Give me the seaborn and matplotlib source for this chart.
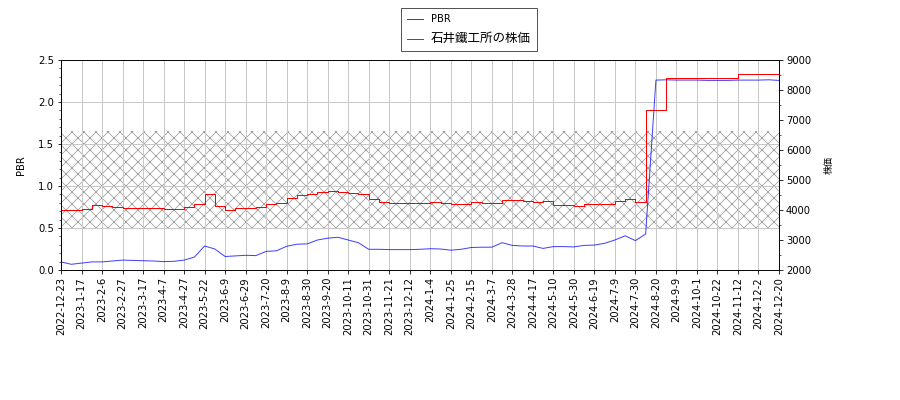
import numpy as np
import pandas as pd
import matplotlib
matplotlib.use("Agg")
import matplotlib.pyplot as plt
from matplotlib.ticker import MultipleLocator
import seaborn as sns

plt.rcParams['font.family'] = ['DejaVu Sans', 'Noto Sans CJK JP']
plt.rcParams['hatch.linewidth'] = 0.8

tick_labels = [
    "2022-12-23", "2023-1-17", "2023-2-6", "2023-2-27", "2023-3-17", "2023-4-7",
    "2023-4-27", "2023-5-22", "2023-6-9", "2023-6-29", "2023-7-20", "2023-8-9",
    "2023-8-30", "2023-9-20", "2023-10-11", "2023-10-31", "2023-11-21", "2023-12-12",
    "2024-1-4", "2024-1-25", "2024-2-15", "2024-3-7", "2024-3-28", "2024-4-17",
    "2024-5-10", "2024-5-30", "2024-6-19", "2024-7-9", "2024-7-30", "2024-8-20",
    "2024-9-9", "2024-10-1", "2024-10-22", "2024-11-12", "2024-12-2", "2024-12-20",
]

# PBR sampled every half tick interval
pbr = [
    0.72, 0.71, 0.73, 0.775, 0.76, 0.745, 0.74, 0.74, 0.74, 0.735,
    0.725, 0.73, 0.745, 0.78, 0.91, 0.76, 0.71, 0.735, 0.74, 0.75,
    0.785, 0.80, 0.86, 0.89, 0.91, 0.93, 0.945, 0.93, 0.92, 0.90,
    0.84, 0.81, 0.80, 0.80, 0.795, 0.80, 0.805, 0.80, 0.78, 0.78,
    0.805, 0.80, 0.80, 0.835, 0.83, 0.82, 0.81, 0.82, 0.775, 0.775,
    0.762, 0.786, 0.786, 0.785, 0.825, 0.85, 0.81, 1.90, 1.90, 2.28,
    2.28, 2.28, 2.28, 2.28, 2.28, 2.28, 2.33, 2.33, 2.33, 2.33, 2.33,
]

# stock price sampled every half tick interval
price = [
    2270, 2190, 2230, 2270, 2270, 2300, 2330, 2320, 2310, 2300,
    2280, 2290, 2330, 2430, 2800, 2700, 2450, 2470, 2490, 2480,
    2620, 2640, 2790, 2860, 2870, 3000, 3060, 3090, 3000, 2910,
    2690, 2690, 2680, 2680, 2680, 2690, 2710, 2700, 2660, 2690,
    2750, 2760, 2760, 2910, 2820, 2800, 2800, 2720, 2780, 2780,
    2770, 2820, 2830, 2890, 3000, 3140, 2980, 3200, 8330, 8340,
    8330, 8330, 8330, 8320, 8320, 8320, 8330, 8330, 8330, 8340, 8320,
]

band_low, band_high = 0.5, 1.65

idx = np.arange(len(pbr))
df = pd.DataFrame({"idx": idx, "PBR": pbr, "price": price})

fig = plt.figure(figsize=(12.5, 400 / 72), dpi=72)
ax = fig.add_axes([61 / 900, 1 - 270 / 400, (779 - 61) / 900, 210 / 400])
ax2 = ax.twinx()

ax.axhspan(band_low, band_high, facecolor='none', edgecolor='#a0a0a0',
           hatch='xx', linewidth=0, zorder=0)

sns.lineplot(data=df, x="idx", y="PBR", ax=ax, color='red', linewidth=1,
             drawstyle='steps-post', label='PBR', legend=False)
sns.lineplot(data=df, x="idx", y="price", ax=ax2, color='blue', alpha=0.75,
             linewidth=1, label='石井鐵工所の株価', legend=False)

tick_pos = np.linspace(0, len(pbr) - 1, len(tick_labels))
ax.set_xticks(tick_pos)
ax.set_xticklabels(tick_labels, rotation=90)
ax.set_xlim(0, len(pbr) - 1)
ax.set_ylim(0, 2.5)
ax2.set_ylim(2000, 9000)
ax.yaxis.set_major_locator(MultipleLocator(0.5))
ax.yaxis.set_minor_locator(MultipleLocator(0.1))
ax2.yaxis.set_major_locator(MultipleLocator(1000))
ax2.yaxis.set_minor_locator(MultipleLocator(500))
ax.grid(True, color='#c8c8c8', linewidth=1)
ax.set_axisbelow(True)
ax.set_xlabel('')
ax.set_ylabel('PBR', labelpad=12)
ax2.set_ylabel('株価', labelpad=14, fontsize=9)

h1, l1 = ax.get_legend_handles_labels()
h2, l2 = ax2.get_legend_handles_labels()
leg = fig.legend(h1 + h2, l1 + l2, loc='upper center',
                 bbox_to_anchor=(469 / 900, 1 - 3 / 400), fancybox=False,
                 framealpha=1, edgecolor='#555555', handlelength=1.6,
                 labelspacing=0.8, borderpad=0.6)
leg.get_texts()[1].set_fontsize(12.5)

fig.savefig('out.png', dpi=72)
